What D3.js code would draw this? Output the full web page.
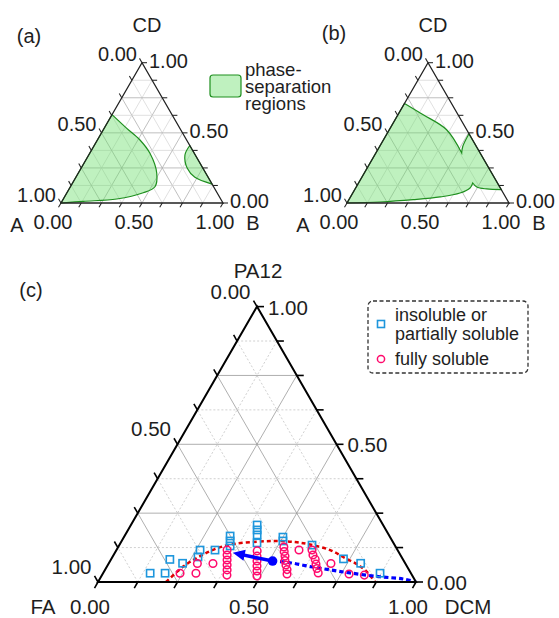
<!DOCTYPE html>
<html>
<head>
<meta charset="utf-8">
<style>
body { margin: 0; background: #fff; }
text { font-family: "Liberation Sans", Arial, sans-serif; fill: #1e1e1e; }
</style>
</head>
<body>
<script src="https://cdn.jsdelivr.net/npm/d3@7"></script>
<script>
// axis ticks every 0.125, labels at 0, 0.5, 1
var tickSteps = d3.range(0, 1.0001, 0.125);
var labelValues = [0, 0.5, 1];

// (a) phase-separation regions, points are [B, CD]
var regionA1 = [[0, 0.63], [0.14, 0.532], [0.263, 0.449], [0.372, 0.354], [0.485, 0.212],
                [0.522, 0.116], [0.471, 0.073], [0.33, 0.0285], [0.132, 0.012], [0, 0]];
var regionA2 = [[0.59, 0.41], [0.594, 0.342], [0.656, 0.247], [0.735, 0.183], [0.865, 0.135]];

// (b) one big region, in four pieces
var regionBUpper = [[0, 0.71], [0.156, 0.629], [0.354, 0.522], [0.53, 0.356]];
var regionBNotch = [[0.53, 0.356], [0.513, 0.403], [0.506, 0.494]];
var regionBRight = [[0.905, 0.095], [0.812, 0.1], [0.744, 0.114], [0.705, 0.1425]];
var regionBLower = [[0.705, 0.1425], [0.706, 0.107], [0.662, 0.071], [0.553, 0.043],
                    [0.397, 0.0235], [0.2, 0.007], [0, 0]];

// (c) points are [DCM, PA12]
var insoluble = [[0.148, 0.032], [0.195, 0.032], [0.185, 0.082], [0.232, 0.068], [0.263, 0.116],
                 [0.269, 0.091], [0.310, 0.116], [0.332, 0.167], [0.341, 0.149], [0.350, 0.131],
                 [0.397, 0.207], [0.406, 0.189], [0.415, 0.171], [0.429, 0.142], [0.500, 0.163],
                 [0.507, 0.149], [0.606, 0.134], [0.730, 0.084], [0.792, 0.068], [0.871, 0.032]];
var soluble = [[0.242, 0.032], [0.292, 0.032], [0.279, 0.067], [0.328, 0.067],
               [0.348, 0.116], [0.357, 0.098], [0.366, 0.080], [0.375, 0.062], [0.384, 0.044], [0.393, 0.025],
               [0.444, 0.113], [0.453, 0.094], [0.462, 0.076], [0.471, 0.058], [0.480, 0.040], [0.489, 0.022],
               [0.521, 0.127], [0.530, 0.111], [0.541, 0.094], [0.549, 0.078], [0.560, 0.062], [0.572, 0.045], [0.580, 0.029],
               [0.574, 0.116],
               [0.615, 0.116], [0.627, 0.098], [0.642, 0.082], [0.653, 0.065], [0.664, 0.049], [0.676, 0.033],
               [0.699, 0.067], [0.775, 0.029], [0.825, 0.025]];
var binodal = [[0.214, 0], [0.240, 0.056], [0.274, 0.094], [0.312, 0.122], [0.357, 0.138], [0.426, 0.146],
               [0.485, 0.149], [0.547, 0.145], [0.599, 0.136], [0.672, 0.116], [0.733, 0.087],
               [0.782, 0.065], [0.827, 0.037], [0.871, 0]];
var dilution = [[0.511, 0.076], [0.569, 0.070], [0.639, 0.056], [0.708, 0.044], [0.776, 0.033],
                [0.877, 0.019], [0.954, 0.011], [1, 0]];
var arrowFrom = [0.511, 0.076], arrowTo = [0.371, 0.106];

var svg = d3.select("body").append("svg")
    .attr("width", 559)
    .attr("height", 618);

function drawTernary(cfg) {
  var h = cfg.side * Math.sqrt(3) / 2;
  var xs = d3.scaleLinear().domain([0, 1]).range([cfg.x0, cfg.x0 + cfg.side]);
  var ys = d3.scaleLinear().domain([0, 1]).range([cfg.y0, cfg.y0 - h]);
  // b = right vertex fraction, c = top vertex fraction
  var pt = function(b, c) { return [xs(b + c / 2), ys(c)]; };
  var g = svg.append("g");
  var grid = g.append("g");
  var over = g.append("g");   // regions / data go between grid and axes
  var axes = g.append("g");

  tickSteps.forEach(function(v) {
    if (v <= 0 || v >= 1) return;
    var major = Math.abs(v * 4 - Math.round(v * 4)) < 1e-6;
    var segs = [[pt(0, v), pt(1 - v, v)], [pt(v, 0), pt(v, 1 - v)], [pt(1 - v, 0), pt(0, 1 - v)]];
    segs.forEach(function(s) {
      grid.append("line")
          .attr("x1", s[0][0]).attr("y1", s[0][1])
          .attr("x2", s[1][0]).attr("y2", s[1][1])
          .style("stroke", major ? cfg.majorColor : cfg.minorColor)
          .style("stroke-width", 0.8)
          .style("stroke-dasharray", major ? null : cfg.minorDash);
    });
  });

  var A = pt(0, 0), B = pt(1, 0), C = pt(0, 1);
  axes.append("path")
      .attr("d", "M" + A + "L" + B + "L" + C + "Z")
      .style("fill", "none")
      .style("stroke", cfg.axisColor)
      .style("stroke-width", cfg.axisWidth)
      .style("stroke-linejoin", "miter");

  var L = cfg.tick, s3 = Math.sqrt(3) / 2;
  tickSteps.forEach(function(v) {
    var ticks = [[pt(v, 0), [-0.5, s3]], [pt(1 - v, v), [1, 0]], [pt(0, 1 - v), [-0.5, -s3]]];
    ticks.forEach(function(t) {
      axes.append("line")
          .attr("x1", t[0][0]).attr("y1", t[0][1])
          .attr("x2", t[0][0] + t[1][0] * L).attr("y2", t[0][1] + t[1][1] * L)
          .style("stroke", cfg.axisColor)
          .style("stroke-width", cfg.axisWidth * 0.8);
    });
  });

  labelValues.forEach(function(v) {
    var p;
    p = pt(v, 0);
    axes.append("text").attr("x", p[0] + cfg.bLab[0]).attr("y", p[1] + cfg.bLab[1])
        .attr("dy", "0.35em").attr("text-anchor", "middle")
        .style("font-size", cfg.fs + "px").text(v.toFixed(2));
    p = pt(1 - v, v);
    axes.append("text").attr("x", p[0] + cfg.rLab[0]).attr("y", p[1] + cfg.rLab[1])
        .attr("dy", "0.35em").attr("text-anchor", "start")
        .style("font-size", cfg.fs + "px").text(v.toFixed(2));
    p = pt(0, 1 - v);
    axes.append("text").attr("x", p[0] + cfg.lLab[0]).attr("y", p[1] + cfg.lLab[1])
        .attr("dy", "0.35em").attr("text-anchor", "end")
        .style("font-size", cfg.fs + "px").text(v.toFixed(2));
  });

  var titles = [[C, cfg.titles[0], cfg.tPos[0]], [A, cfg.titles[1], cfg.tPos[1]], [B, cfg.titles[2], cfg.tPos[2]]];
  titles.forEach(function(t) {
    axes.append("text").attr("x", t[0][0] + t[2][0]).attr("y", t[0][1] + t[2][1])
        .attr("dy", "0.35em").attr("text-anchor", "middle")
        .style("font-size", cfg.fs + "px").text(t[1]);
  });

  svg.append("text").attr("x", cfg.panel[0]).attr("y", cfg.panel[1])
      .attr("dy", "0.35em").attr("text-anchor", "middle")
      .style("font-size", "20px").text(cfg.panel[2]);

  return {pt: pt, layer: over};
}

var small = {
  side: 162, y0: 203, fs: 20, tick: 5, axisWidth: 1.3, axisColor: "#222",
  majorColor: "#b0b0b0", minorColor: "#d8d8d8", minorDash: null,
  lLab: [-5, -8.5], rLab: [7, -2], bLab: [-8, 18.5],
  tPos: [[5, -38], [-44, 22], [30, 20]], titles: ["CD", "A", "B"]
};

var green = {fill: "#66dd66", fillOpacity: 0.42, stroke: "#1f8f1f"};

function regionPath(t, pieces) {
  var line = d3.line()
      .x(function(d) { return t.pt(d[0], d[1])[0]; })
      .y(function(d) { return t.pt(d[0], d[1])[1]; })
      .curve(d3.curveCatmullRom);
  var d = "";
  pieces.forEach(function(p, i) {
    var s = line(p);
    d += i === 0 ? s : "L" + s.slice(1);
  });
  return d + "Z";
}

function drawRegion(t, pieces) {
  t.layer.append("path")
      .attr("d", regionPath(t, pieces))
      .style("fill", green.fill)
      .style("fill-opacity", green.fillOpacity)
      .style("stroke", green.stroke)
      .style("stroke-width", 1.2);
}

// panel (a)
var ta = drawTernary(Object.assign({}, small, {x0: 61, panel: [29, 36, "(a)"]}));
drawRegion(ta, [regionA1]);
drawRegion(ta, [regionA2]);

// panel (b)
var tb = drawTernary(Object.assign({}, small, {x0: 347, panel: [334, 33, "(b)"]}));
drawRegion(tb, [regionBUpper, regionBNotch, regionBRight, regionBLower]);

// legend for (a)/(b)
svg.append("rect").attr("x", 210).attr("y", 75).attr("width", 31).attr("height", 22).attr("rx", 3)
    .style("fill", green.fill).style("fill-opacity", green.fillOpacity)
    .style("stroke", green.stroke).style("stroke-width", 1.2);
["phase-", "separation", "regions"].forEach(function(s, i) {
  svg.append("text").attr("x", 245).attr("y", 70 + i * 17).attr("dy", "0.35em")
      .style("font-size", "18.5px").text(s);
});

// panel (c)
var tc = drawTernary({
  x0: 98, y0: 582, side: 318, fs: 20.5, tick: 7, axisWidth: 2, axisColor: "#000",
  majorColor: "#9a9a9a", minorColor: "#c4c4c4", minorDash: "2,2",
  lLab: [-6.5, -15], rLab: [11, 1], bLab: [-8, 25],
  tPos: [[1, -36], [-55, 25], [52, 25]], titles: ["PA12", "FA", "DCM"],
  panel: [31, 290, "(c)"]
});

var cLine = d3.line()
    .x(function(d) { return tc.pt(d[0], d[1])[0]; })
    .y(function(d) { return tc.pt(d[0], d[1])[1]; })
    .curve(d3.curveCatmullRom);

tc.layer.append("path").attr("d", cLine(binodal))
    .style("fill", "none").style("stroke", "#e00000")
    .style("stroke-width", 2.5).style("stroke-dasharray", "4,3");

tc.layer.append("path").attr("d", cLine(dilution))
    .style("fill", "none").style("stroke", "#0000ff")
    .style("stroke-width", 3.2).style("stroke-dasharray", "4.5,3");

tc.layer.selectAll("rect.ins").data(insoluble).enter().append("rect")
    .attr("class", "ins")
    .attr("x", function(d) { return tc.pt(d[0], d[1])[0] - 3.6; })
    .attr("y", function(d) { return tc.pt(d[0], d[1])[1] - 3.6; })
    .attr("width", 7.2).attr("height", 7.2)
    .style("fill", "none").style("stroke", "#1e96dc").style("stroke-width", 1.6);

tc.layer.selectAll("circle.sol").data(soluble).enter().append("circle")
    .attr("class", "sol")
    .attr("cx", function(d) { return tc.pt(d[0], d[1])[0]; })
    .attr("cy", function(d) { return tc.pt(d[0], d[1])[1]; })
    .attr("r", 3.8)
    .style("fill", "none").style("stroke", "#ff0a6c").style("stroke-width", 1.5);

// arrow from the starting composition
var p0 = tc.pt(arrowFrom[0], arrowFrom[1]), p1 = tc.pt(arrowTo[0], arrowTo[1]);
var dx = p1[0] - p0[0], dy = p1[1] - p0[1], len = Math.sqrt(dx * dx + dy * dy);
var ux = dx / len, uy = dy / len;
tc.layer.append("line")
    .attr("x1", p0[0]).attr("y1", p0[1])
    .attr("x2", p1[0] - ux * 9).attr("y2", p1[1] - uy * 9)
    .style("stroke", "#0000ff").style("stroke-width", 3.5);
var hb = [p1[0] - ux * 12, p1[1] - uy * 12];
tc.layer.append("path")
    .attr("d", "M" + p1 + "L" + [hb[0] - uy * 5.5, hb[1] + ux * 5.5] + "L" + [hb[0] + uy * 5.5, hb[1] - ux * 5.5] + "Z")
    .style("fill", "#0000ff");
tc.layer.append("circle").attr("cx", p0[0]).attr("cy", p0[1]).attr("r", 4.8).style("fill", "#0000ff");

// legend for (c)
svg.append("rect").attr("x", 368).attr("y", 301).attr("width", 160).attr("height", 72).attr("rx", 5)
    .style("fill", "none").style("stroke", "#333").style("stroke-width", 1.3)
    .style("stroke-dasharray", "4,2.5");
svg.append("rect").attr("x", 377.5).attr("y", 320.5).attr("width", 7).attr("height", 7)
    .style("fill", "none").style("stroke", "#1e96dc").style("stroke-width", 1.6);
svg.append("circle").attr("cx", 381).attr("cy", 359).attr("r", 3.6)
    .style("fill", "none").style("stroke", "#ff0a6c").style("stroke-width", 1.5);
[["insoluble or", 314.5], ["partially soluble", 333.5], ["fully soluble", 359]].forEach(function(t) {
  svg.append("text").attr("x", 395).attr("y", t[1]).attr("dy", "0.35em")
      .style("font-size", "18px").text(t[0]);
});
</script>
</body>
</html>
